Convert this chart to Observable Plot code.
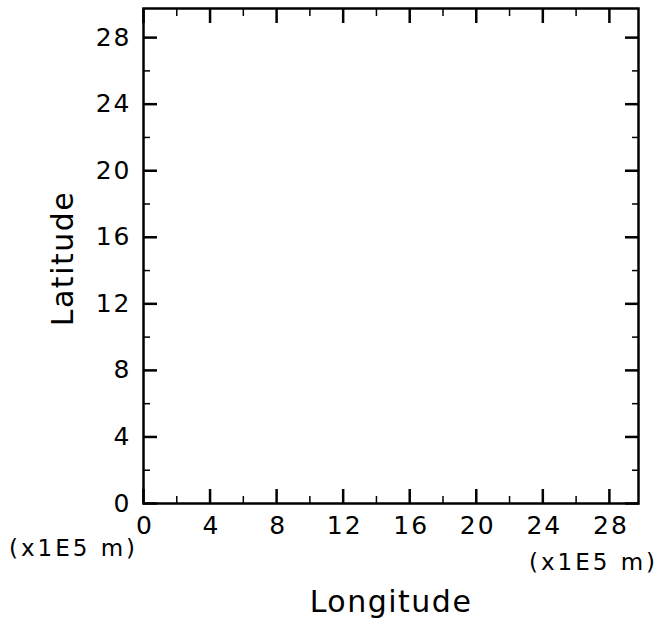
<!DOCTYPE html>
<html><head><meta charset="utf-8">
<script src="https://cdn.jsdelivr.net/npm/d3@7"></script>
<script src="https://cdn.jsdelivr.net/npm/@observablehq/plot@0.6"></script>
<style>body{margin:0;background:#fff}</style>
</head><body><div id="chart"></div>
<script>
const domainMax = 29.75;
const majorTicks = [0, 4, 8, 12, 16, 20, 24, 28];
const minorTicks = [2, 6, 10, 14, 18, 22, 26];
const xLabel = "Longitude";
const yLabel = "Latitude";
const unitLabel = "(x1E5 m)";

const font = "'DejaVu Sans', sans-serif";
const tickOnly = {fill: "none", label: null, stroke: "#000"};

const chart = Plot.plot({
  width: 664, height: 627,
  marginLeft: 143, marginRight: 26, marginTop: 8, marginBottom: 124,
  style: {fontFamily: font, background: "#fff", color: "#000"},
  x: {domain: [0, domainMax]},
  y: {domain: [0, domainMax]},
  marks: [
    // major ticks (inward) on all four sides
    Plot.axisX(majorTicks, {...tickOnly, anchor: "bottom", tickSize: -14, strokeWidth: 2.5}),
    Plot.axisX(majorTicks, {...tickOnly, anchor: "top", tickSize: -14, strokeWidth: 2.5}),
    Plot.axisY(majorTicks, {...tickOnly, anchor: "left", tickSize: -14, strokeWidth: 2.5}),
    Plot.axisY(majorTicks, {...tickOnly, anchor: "right", tickSize: -14, strokeWidth: 2.5}),
    // minor ticks
    Plot.axisX(minorTicks, {...tickOnly, anchor: "bottom", tickSize: -7, strokeWidth: 1.5}),
    Plot.axisX(minorTicks, {...tickOnly, anchor: "top", tickSize: -7, strokeWidth: 1.5}),
    Plot.axisY(minorTicks, {...tickOnly, anchor: "left", tickSize: -7, strokeWidth: 1.5}),
    Plot.axisY(minorTicks, {...tickOnly, anchor: "right", tickSize: -7, strokeWidth: 1.5}),
    // tick labels
    Plot.axisX(majorTicks, {anchor: "bottom", tickSize: 0, tickPadding: 13, fontSize: 25, label: null, dx: 1.5, className: "ticklab"}),
    Plot.axisY(majorTicks, {anchor: "left", tickSize: 0, tickPadding: 12, fontSize: 25, label: null, className: "ticklab"}),
    Plot.frame({stroke: "#000", strokeWidth: 2.5}),
    // axis titles
    Plot.text([xLabel], {frameAnchor: "bottom", textAnchor: "middle", lineAnchor: "middle", dy: 99, fontSize: 30, text: d => d, className: "title"}),
    Plot.text([yLabel], {frameAnchor: "left", textAnchor: "middle", lineAnchor: "middle", dx: -80, dy: 2.5, rotate: -90, fontSize: 30, text: d => d, className: "title"}),
    // unit labels
    Plot.text([unitLabel], {frameAnchor: "bottom-left", textAnchor: "middle", lineAnchor: "middle", dx: -70, dy: 45, fontSize: 23, text: d => d, className: "unit"}),
    Plot.text([unitLabel], {frameAnchor: "bottom-right", textAnchor: "middle", lineAnchor: "middle", dx: -45, dy: 59, fontSize: 23, text: d => d, className: "unit"})
  ]
});
d3.select(chart).selectAll(".ticklab text").attr("letter-spacing", 2);
d3.select(chart).selectAll(".title text").attr("letter-spacing", 1.5);
d3.select(chart).selectAll(".unit text").attr("letter-spacing", 3);
document.getElementById("chart").append(chart);
</script>
</body></html>
